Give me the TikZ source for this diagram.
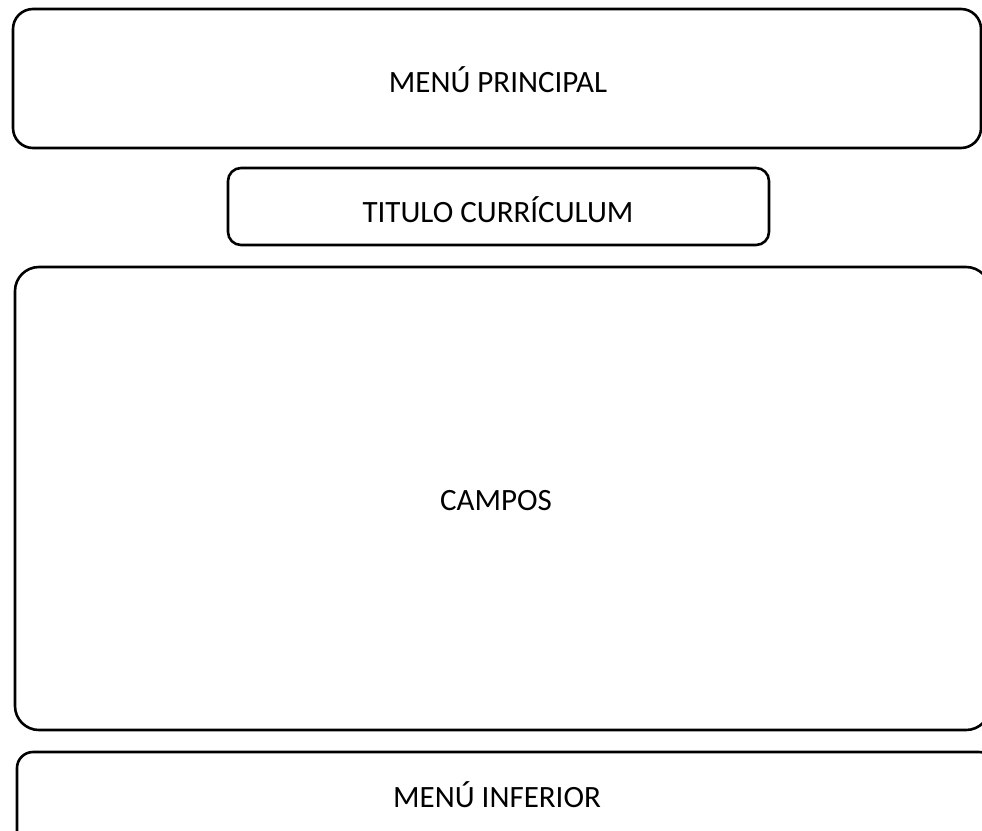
\documentclass[tikz,border=0pt]{standalone}
\usepackage{fontspec}
\setmainfont{Carlito}
\begin{document}
\begin{tikzpicture}[x=1pt,y=-1pt,
  panel/.style={draw=black,line width=2.6pt,fill=white},
  lbl/.style={font=\fontsize{31}{36}\selectfont,inner sep=0pt,anchor=center}]
\useasboundingbox (0,0) rectangle (982,830);
\clip (0,0) rectangle (982,830);
\draw[panel,rounded corners=20pt] (13,9) rectangle (981,148);
\draw[panel,rounded corners=13pt] (228,168) rectangle (769,245);
\draw[panel,rounded corners=24pt] (15,267) rectangle (990,730);
\draw[panel,rounded corners=16pt] (17,752) rectangle (995,850);
\node[lbl] (menu) at (498,80) {MENÚ PRINCIPAL};
\node[lbl] (titulo) at (498,210) {TITULO CURRÍCULUM};
\node[lbl] (campos) at (496,501) {CAMPOS};
\node[lbl] (inferior) at (497,795) {MENÚ INFERIOR};
\end{tikzpicture}
\end{document}
